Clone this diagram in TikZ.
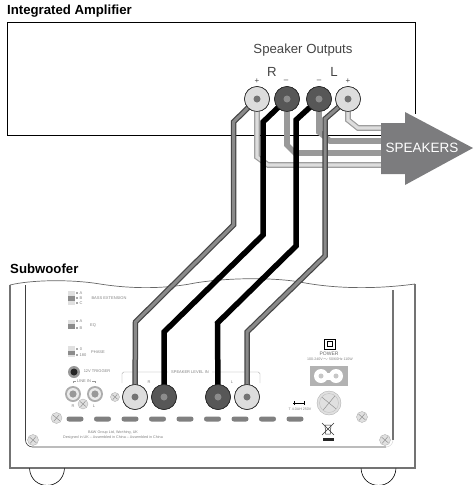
\documentclass[tikz,border=0pt]{standalone}
\usepackage{fontspec}
\setmainfont{Liberation Sans}
\definecolor{txt}{HTML}{444444}
\definecolor{tiny}{HTML}{808080}
\definecolor{wiregray}{HTML}{8A8A8A}
\definecolor{lightw}{HTML}{DDDDDD}
\definecolor{arrowg}{HTML}{7C7C7E}
\tikzset{
  x=1pt,y=-1pt,
  title/.style={font=\bfseries\fontsize{13.2}{13}\selectfont,anchor=west,inner sep=0pt},
  big/.style={font=\fontsize{13.2}{13}\selectfont,text=txt,inner sep=0pt},
  small/.style={font=\fontsize{4}{4}\selectfont,text=tiny,inner sep=0pt},
  pm/.style={font=\fontsize{8}{8}\selectfont,text=txt,inner sep=0pt},
  termlight/.style={circle,draw=black!85,line width=.6pt,fill=lightw,minimum size=25pt,inner sep=0pt},
  termdark/.style={circle,draw=black!85,line width=.6pt,fill=black!66,minimum size=25pt,inner sep=0pt},
  core/.style={circle,minimum size=7pt,inner sep=0pt},
  wireout/.style={line width=5.5pt,draw=black!72},
  wirein/.style={line width=3pt,draw=wiregray},
  wireblack/.style={line width=5.5pt,draw=black},
  shortlight/.style={line width=5.6pt,draw=black!38},
  shortlightin/.style={line width=3.2pt,draw=lightw},
  shortmid/.style={line width=5.6pt,draw=black!40},
  chassis/.style={draw=black!55,line width=1.3pt},
  slot/.style={fill=black!50,rounded corners=2.4pt},
  bracket/.style={draw=black!40,line width=.35pt,rounded corners=1.5pt},
}
\newcommand{\screwat}[3]{%
  \draw[draw=black!30,fill=black!12,line width=.4pt] (#1,#2) circle (#3);
  \draw[draw=black!45,line width=.45pt] (#1-.6*#3,#2-.5*#3) -- (#1+.6*#3,#2+.5*#3) (#1+.5*#3,#2-.6*#3) -- (#1-.5*#3,#2+.6*#3);
}
\newcommand{\swbox}[5]{%
  \fill[black!12] (68,#1) rectangle (75,#2);
  \fill[black!45] (68,#3) rectangle (75,#4);
  \foreach \yy in {#5} \fill[black!70] (77,\yy) circle (.8);
}
\begin{document}
\begin{tikzpicture}
\useasboundingbox (0,0) rectangle (474,485);
% titles
\node[title] (tamp) at (7,11.5) {Integrated Amplifier};
\node[title] (tsub) at (10,269) {Subwoofer};
% amplifier
\draw[line width=.8pt] (381,135) -- (7,135) -- (7,22) -- (415,22) -- (415,114);
\node[big] (tso) at (303,50) {Speaker Outputs};
\node[big] (tr) at (272,72) {R};
\node[big] (tl) at (334,72) {L};
\node[pm] at (257,81) {+};
\node[pm] at (286,81) {–};
\node[pm] at (319,81) {–};
\node[pm] at (348,81) {+};
% chassis
\draw[draw=black!60,line width=.7pt] (10,285) .. controls (30,280) and (70,279) .. (100,284) .. controls (125,288) and (160,290) .. (195,283) .. controls (225,278) and (270,277) .. (300,282) .. controls (330,288) and (370,290) .. (415,284);
\draw[chassis] (10,285) -- (10,468) -- (415,468) -- (415,284);
\draw[line width=.6pt,draw=black!75] (25.5,285) -- (25.5,440) arc[start angle=180,end angle=90,radius=7] -- (386,447);
\draw[draw=black!55,line width=1.2pt] (393,290) -- (393,440);
\draw[draw=black!15,line width=.5pt] (393,440) arc[start angle=0,end angle=90,radius=7];
% feet
\draw[line width=.6pt] (29.5,468.5) .. controls (31,491) and (63,491) .. (64.5,468.5);
\draw[line width=.6pt] (361,468.5) .. controls (362.5,491) and (394.5,491) .. (396,468.5);
% switches
\swbox{291}{305}{296}{301}{293,298,303}
\swbox{320}{329}{324}{329}{321,328}
\swbox{346}{357}{351}{355}{349,355}
\node[small] at (81,293) {A};\node[small] at (81,298) {B};\node[small] at (81,303) {C};
\node[small] at (81,321) {A};\node[small] at (81,328) {B};
\node[small] at (81,349) {0};\node[small] at (83,355) {180};
\node[small] at (109,298) {BASS EXTENSION};
\node[small] at (93,325) {EQ};
\node[small] at (98,352) {PHASE};
\node[small] at (97,371) {12V TRIGGER};
% trigger
\fill[black!40] (74,372) circle (6);
\fill[black!85] (74,372) circle (3.5);
% line in
\node[small] (tli) at (84,381) {LINE IN};
\draw[bracket,rounded corners=0pt] (73,383) -- (73,381) -- (76,381);
\draw[bracket,rounded corners=0pt] (92,381) -- (95,381) -- (95,383);
\foreach \xx in {73,95}{
  \fill[black!32] (\xx,394) circle (8);
  \fill[black!8] (\xx,394) circle (6);
  \fill[black!40] (\xx,394) circle (3.6);
}
\node[small] at (73,406) {R};
\node[small] at (94,406) {L};
\screwat{83}{404}{5}
\screwat{115}{397}{4.5}
\screwat{56.5}{418}{5.5}
\screwat{33}{440}{5.5}
\screwat{385}{440}{5.5}
\screwat{362}{417}{5.5}
\screwat{329}{403}{12}
\draw[draw=black!25,line width=.4pt] (329,403) circle (9.5);
% slots
\foreach \xx in {75,102.5,130,157.5,185,212.5,240,267.5,295}
  \fill[slot] (\xx-8.5,416.5) rectangle (\xx+8.5,421.5);
% small print
\node[small,font=\fontsize{3.7}{4}\selectfont] at (113,433) {B\&W Group Ltd, Worthing, UK};
\node[small,font=\fontsize{3.7}{4}\selectfont] at (113,438) {Designed in UK – Assembled in China – Assembled in China};
% speaker level in bracket
\draw[bracket] (122,383) -- (122,372) -- (168,372);
\draw[bracket] (212,372) -- (260,372) -- (260,383);
\node[small] at (190,372) {SPEAKER LEVEL IN};
\node[small] at (149,382) {R};
\node[small] at (232,382) {L};
% power
\draw[line width=.7pt] (324,339) rectangle (335,349);
\draw[line width=.5pt] (327,341.5) rectangle (332,346.5);
\node[small,font=\fontsize{5}{5}\selectfont,text=black!60] at (329,354) {POWER};
\node[small,font=\fontsize{3.6}{4}\selectfont] at (330,359) {100-240V$\sim$ 50/60Hz  110W};
\fill[black!30] (310,366) rectangle (348,386);
\fill[white] (321,376) circle (7);
\fill[white] (336,376) circle (7);
\fill[white] (321,372.5) rectangle (336,379.5);
\fill[black!22] (321,376) circle (2.5);
\fill[black!22] (336,376) circle (2.5);
% fuse
\draw[line width=.7pt] (293,403) -- (305,403);
\draw[line width=.9pt] (294,401) -- (294,405) (304,401) -- (304,405);
\node[small,font=\fontsize{3.6}{4}\selectfont] at (300,409) {T 4.0AH 250V};
% WEEE
\draw[line width=.5pt,draw=black!80] (325,425) -- (331,425) -- (330.3,434) -- (325.7,434) -- cycle;
\draw[line width=.5pt,draw=black!80] (322,423) -- (334,435) (334,423) -- (322,435);
\fill[black!85] (323,438) rectangle (334,441);
% terminals (amplifier)
\node[termlight] (arp) at (257,99) {};
\node[termdark] (arm) at (287,99) {};
\node[termdark] (alm) at (319,99) {};
\node[termlight] (alp) at (348,99) {};
% terminals (subwoofer)
\node[termlight] (srp) at (135,397) {};
\node[termdark] (srm) at (164,397) {};
\node[termdark] (slm) at (218,397) {};
\node[termlight] (slp) at (247,397) {};
% bends: short wires
\coordinate (a1) at (257,157);\coordinate (a2) at (268,165);\coordinate (a3) at (390,165);
\coordinate (b1) at (287,145);\coordinate (b2) at (295,153);\coordinate (b3) at (390,153);
\coordinate (c1) at (319,132);\coordinate (c2) at (330,141);\coordinate (c3) at (390,141);
\coordinate (d1) at (348,120);\coordinate (d2) at (358,128);\coordinate (d3) at (390,128);
\draw[shortlight] (arp.center) -- (a1) -- (a2) -- (a3);
\draw[shortlightin] (arp.center) -- (a1) -- (a2) -- (a3);
\draw[shortmid] (arm.center) -- (b1) -- (b2) -- (b3);
\draw[shortmid] (alm.center) -- (c1) -- (c2) -- (c3);
\draw[shortlight] (alp.center) -- (d1) -- (d2) -- (d3);
\draw[shortlightin] (alp.center) -- (d1) -- (d2) -- (d3);
% bends: long wires
\coordinate (p1) at (233.5,122);\coordinate (p2) at (233.5,225);\coordinate (p3) at (135.5,322);
\coordinate (q1) at (263,122);\coordinate (q2) at (263,235);\coordinate (q3) at (164,332);
\coordinate (r1) at (296,120);\coordinate (r2) at (296,246);\coordinate (r3) at (217.5,323);
\coordinate (s1) at (325,119);\coordinate (s2) at (325,256);\coordinate (s3) at (247,332);
\draw[wireout] (arp.center) -- (p1) -- (p2) -- (p3) -- (srp.center);
\draw[wirein] (arp.center) -- (p1) -- (p2) -- (p3) -- (srp.center);
\draw[wireblack] (arm.center) -- (q1) -- (q2) -- (q3) -- (srm.center);
\draw[wireblack] (alm.center) -- (r1) -- (r2) -- (r3) -- (slm.center);
\draw[wireout] (alp.center) -- (s1) -- (s2) -- (s3) -- (slp.center);
\draw[wirein] (alp.center) -- (s1) -- (s2) -- (s3) -- (slp.center);
% redraw terminals over the wires
\foreach \n/\sty/\cc in {arp/termlight/black!55,arm/termdark/black!45,alm/termdark/black!45,alp/termlight/black!55,srp/termlight/black!55,srm/termdark/black!45,slm/termdark/black!45,slp/termlight/black!55}{
  \node[\sty] at (\n) {};
  \node[core,fill=\cc] at (\n) {};
}
% arrow
\fill[arrowg] (381,123) -- (405,123) -- (405,112) -- (473,148) -- (405,185) -- (405,174) -- (381,174) -- cycle;
\node[font=\fontsize{13.5}{13}\selectfont,text=white,inner sep=0pt] (spk) at (422,148) {SPEAKERS};
\end{tikzpicture}
\end{document}
